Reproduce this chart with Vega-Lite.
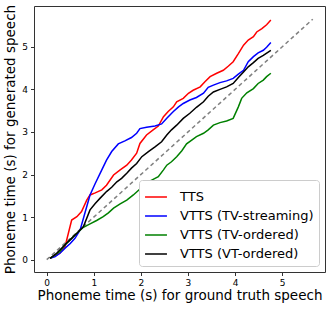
{
  "$schema": "https://vega.github.io/schema/vega-lite/v6.json",
  "width": 291,
  "height": 266,
  "autosize": {"type": "none"},
  "padding": {"left": 34, "top": 6, "right": 7, "bottom": 37},
  "config": {
    "font": "DejaVu Sans",
    "view": {"stroke": "#333333", "strokeWidth": 1},
    "axis": {"grid": false, "domain": false, "tickColor": "#333333", "tickSize": 3.5, "labelFontSize": 9, "labelColor": "#000000", "titleFontSize": 13.5, "titleFontWeight": "normal", "titleColor": "#000000", "labelPadding": 3}
  },
  "layer": [
    {
      "data": {"values": [{"x": 0, "y": 0}, {"x": 5.65, "y": 5.65}]},
      "mark": {"type": "line", "color": "#808080", "strokeDash": [4, 3], "strokeWidth": 1.5},
      "encoding": {
        "x": {"field": "x", "type": "quantitative", "scale": {"domain": [-0.27, 5.91], "nice": false, "zero": false}},
        "y": {"field": "y", "type": "quantitative", "scale": {"domain": [-0.29, 5.96], "nice": false, "zero": false}}
      }
    },
    {
      "data": {"values": [
        {"s":"TTS","x":0.07,"y":0.03},{"s":"TTS","x":0.28,"y":0.15},{"s":"TTS","x":0.39,"y":0.31},{"s":"TTS","x":0.46,"y":0.62},{"s":"TTS","x":0.53,"y":0.93},{"s":"TTS","x":0.64,"y":1.01},{"s":"TTS","x":0.74,"y":1.13},{"s":"TTS","x":0.85,"y":1.40},{"s":"TTS","x":0.92,"y":1.52},{"s":"TTS","x":1.03,"y":1.57},{"s":"TTS","x":1.17,"y":1.64},{"s":"TTS","x":1.27,"y":1.75},{"s":"TTS","x":1.42,"y":1.99},{"s":"TTS","x":1.56,"y":2.11},{"s":"TTS","x":1.70,"y":2.22},{"s":"TTS","x":1.80,"y":2.34},{"s":"TTS","x":1.91,"y":2.50},{"s":"TTS","x":1.98,"y":2.73},{"s":"TTS","x":2.12,"y":2.93},{"s":"TTS","x":2.26,"y":3.05},{"s":"TTS","x":2.37,"y":3.14},{"s":"TTS","x":2.48,"y":3.36},{"s":"TTS","x":2.58,"y":3.48},{"s":"TTS","x":2.69,"y":3.59},{"s":"TTS","x":2.76,"y":3.71},{"s":"TTS","x":2.90,"y":3.79},{"s":"TTS","x":3.01,"y":3.91},{"s":"TTS","x":3.11,"y":3.98},{"s":"TTS","x":3.26,"y":4.06},{"s":"TTS","x":3.36,"y":4.18},{"s":"TTS","x":3.47,"y":4.30},{"s":"TTS","x":3.61,"y":4.38},{"s":"TTS","x":3.75,"y":4.45},{"s":"TTS","x":3.86,"y":4.55},{"s":"TTS","x":3.96,"y":4.65},{"s":"TTS","x":4.07,"y":4.84},{"s":"TTS","x":4.18,"y":5.04},{"s":"TTS","x":4.28,"y":5.16},{"s":"TTS","x":4.39,"y":5.24},{"s":"TTS","x":4.46,"y":5.35},{"s":"TTS","x":4.57,"y":5.43},{"s":"TTS","x":4.67,"y":5.52},{"s":"TTS","x":4.76,"y":5.63},
        {"s":"VTTS (TV-streaming)","x":0.07,"y":0.03},{"s":"VTTS (TV-streaming)","x":0.18,"y":0.07},{"s":"VTTS (TV-streaming)","x":0.28,"y":0.15},{"s":"VTTS (TV-streaming)","x":0.39,"y":0.27},{"s":"VTTS (TV-streaming)","x":0.50,"y":0.38},{"s":"VTTS (TV-streaming)","x":0.60,"y":0.50},{"s":"VTTS (TV-streaming)","x":0.71,"y":0.70},{"s":"VTTS (TV-streaming)","x":0.81,"y":1.09},{"s":"VTTS (TV-streaming)","x":0.92,"y":1.52},{"s":"VTTS (TV-streaming)","x":1.03,"y":1.79},{"s":"VTTS (TV-streaming)","x":1.17,"y":2.11},{"s":"VTTS (TV-streaming)","x":1.27,"y":2.34},{"s":"VTTS (TV-streaming)","x":1.38,"y":2.54},{"s":"VTTS (TV-streaming)","x":1.52,"y":2.72},{"s":"VTTS (TV-streaming)","x":1.66,"y":2.79},{"s":"VTTS (TV-streaming)","x":1.80,"y":2.87},{"s":"VTTS (TV-streaming)","x":1.91,"y":2.97},{"s":"VTTS (TV-streaming)","x":1.98,"y":3.08},{"s":"VTTS (TV-streaming)","x":2.12,"y":3.11},{"s":"VTTS (TV-streaming)","x":2.30,"y":3.14},{"s":"VTTS (TV-streaming)","x":2.44,"y":3.19},{"s":"VTTS (TV-streaming)","x":2.55,"y":3.32},{"s":"VTTS (TV-streaming)","x":2.69,"y":3.48},{"s":"VTTS (TV-streaming)","x":2.80,"y":3.59},{"s":"VTTS (TV-streaming)","x":2.90,"y":3.67},{"s":"VTTS (TV-streaming)","x":3.04,"y":3.75},{"s":"VTTS (TV-streaming)","x":3.18,"y":3.81},{"s":"VTTS (TV-streaming)","x":3.33,"y":3.91},{"s":"VTTS (TV-streaming)","x":3.43,"y":4.05},{"s":"VTTS (TV-streaming)","x":3.54,"y":4.10},{"s":"VTTS (TV-streaming)","x":3.68,"y":4.16},{"s":"VTTS (TV-streaming)","x":3.82,"y":4.20},{"s":"VTTS (TV-streaming)","x":3.96,"y":4.26},{"s":"VTTS (TV-streaming)","x":4.07,"y":4.36},{"s":"VTTS (TV-streaming)","x":4.18,"y":4.45},{"s":"VTTS (TV-streaming)","x":4.28,"y":4.65},{"s":"VTTS (TV-streaming)","x":4.39,"y":4.77},{"s":"VTTS (TV-streaming)","x":4.49,"y":4.86},{"s":"VTTS (TV-streaming)","x":4.60,"y":4.92},{"s":"VTTS (TV-streaming)","x":4.67,"y":4.99},{"s":"VTTS (TV-streaming)","x":4.76,"y":5.10},
        {"s":"VTTS (TV-ordered)","x":0.07,"y":0.03},{"s":"VTTS (TV-ordered)","x":0.28,"y":0.19},{"s":"VTTS (TV-ordered)","x":0.39,"y":0.35},{"s":"VTTS (TV-ordered)","x":0.53,"y":0.50},{"s":"VTTS (TV-ordered)","x":0.64,"y":0.62},{"s":"VTTS (TV-ordered)","x":0.78,"y":0.76},{"s":"VTTS (TV-ordered)","x":0.92,"y":0.84},{"s":"VTTS (TV-ordered)","x":1.06,"y":0.92},{"s":"VTTS (TV-ordered)","x":1.20,"y":1.01},{"s":"VTTS (TV-ordered)","x":1.31,"y":1.10},{"s":"VTTS (TV-ordered)","x":1.42,"y":1.21},{"s":"VTTS (TV-ordered)","x":1.56,"y":1.31},{"s":"VTTS (TV-ordered)","x":1.70,"y":1.40},{"s":"VTTS (TV-ordered)","x":1.84,"y":1.52},{"s":"VTTS (TV-ordered)","x":1.98,"y":1.66},{"s":"VTTS (TV-ordered)","x":2.09,"y":1.79},{"s":"VTTS (TV-ordered)","x":2.23,"y":1.87},{"s":"VTTS (TV-ordered)","x":2.37,"y":1.95},{"s":"VTTS (TV-ordered)","x":2.48,"y":2.11},{"s":"VTTS (TV-ordered)","x":2.55,"y":2.22},{"s":"VTTS (TV-ordered)","x":2.65,"y":2.30},{"s":"VTTS (TV-ordered)","x":2.76,"y":2.42},{"s":"VTTS (TV-ordered)","x":2.87,"y":2.56},{"s":"VTTS (TV-ordered)","x":2.97,"y":2.72},{"s":"VTTS (TV-ordered)","x":3.08,"y":2.81},{"s":"VTTS (TV-ordered)","x":3.18,"y":2.89},{"s":"VTTS (TV-ordered)","x":3.33,"y":2.97},{"s":"VTTS (TV-ordered)","x":3.43,"y":3.05},{"s":"VTTS (TV-ordered)","x":3.54,"y":3.16},{"s":"VTTS (TV-ordered)","x":3.68,"y":3.22},{"s":"VTTS (TV-ordered)","x":3.82,"y":3.26},{"s":"VTTS (TV-ordered)","x":3.96,"y":3.32},{"s":"VTTS (TV-ordered)","x":4.07,"y":3.59},{"s":"VTTS (TV-ordered)","x":4.14,"y":3.79},{"s":"VTTS (TV-ordered)","x":4.25,"y":3.92},{"s":"VTTS (TV-ordered)","x":4.39,"y":4.02},{"s":"VTTS (TV-ordered)","x":4.49,"y":4.14},{"s":"VTTS (TV-ordered)","x":4.60,"y":4.22},{"s":"VTTS (TV-ordered)","x":4.67,"y":4.30},{"s":"VTTS (TV-ordered)","x":4.76,"y":4.38},
        {"s":"VTTS (VT-ordered)","x":0.07,"y":0.03},{"s":"VTTS (VT-ordered)","x":0.21,"y":0.15},{"s":"VTTS (VT-ordered)","x":0.39,"y":0.35},{"s":"VTTS (VT-ordered)","x":0.53,"y":0.50},{"s":"VTTS (VT-ordered)","x":0.64,"y":0.62},{"s":"VTTS (VT-ordered)","x":0.78,"y":0.78},{"s":"VTTS (VT-ordered)","x":0.92,"y":1.17},{"s":"VTTS (VT-ordered)","x":1.03,"y":1.32},{"s":"VTTS (VT-ordered)","x":1.13,"y":1.44},{"s":"VTTS (VT-ordered)","x":1.27,"y":1.60},{"s":"VTTS (VT-ordered)","x":1.38,"y":1.70},{"s":"VTTS (VT-ordered)","x":1.49,"y":1.83},{"s":"VTTS (VT-ordered)","x":1.59,"y":1.91},{"s":"VTTS (VT-ordered)","x":1.70,"y":2.03},{"s":"VTTS (VT-ordered)","x":1.80,"y":2.15},{"s":"VTTS (VT-ordered)","x":1.91,"y":2.26},{"s":"VTTS (VT-ordered)","x":2.02,"y":2.42},{"s":"VTTS (VT-ordered)","x":2.16,"y":2.54},{"s":"VTTS (VT-ordered)","x":2.30,"y":2.65},{"s":"VTTS (VT-ordered)","x":2.44,"y":2.77},{"s":"VTTS (VT-ordered)","x":2.55,"y":2.93},{"s":"VTTS (VT-ordered)","x":2.65,"y":3.05},{"s":"VTTS (VT-ordered)","x":2.76,"y":3.16},{"s":"VTTS (VT-ordered)","x":2.90,"y":3.32},{"s":"VTTS (VT-ordered)","x":3.04,"y":3.44},{"s":"VTTS (VT-ordered)","x":3.18,"y":3.58},{"s":"VTTS (VT-ordered)","x":3.33,"y":3.71},{"s":"VTTS (VT-ordered)","x":3.43,"y":3.84},{"s":"VTTS (VT-ordered)","x":3.54,"y":3.94},{"s":"VTTS (VT-ordered)","x":3.68,"y":4.00},{"s":"VTTS (VT-ordered)","x":3.82,"y":4.06},{"s":"VTTS (VT-ordered)","x":3.96,"y":4.14},{"s":"VTTS (VT-ordered)","x":4.07,"y":4.28},{"s":"VTTS (VT-ordered)","x":4.18,"y":4.41},{"s":"VTTS (VT-ordered)","x":4.28,"y":4.53},{"s":"VTTS (VT-ordered)","x":4.39,"y":4.63},{"s":"VTTS (VT-ordered)","x":4.49,"y":4.73},{"s":"VTTS (VT-ordered)","x":4.60,"y":4.80},{"s":"VTTS (VT-ordered)","x":4.76,"y":4.92}
      ]},
      "mark": {"type": "line", "strokeWidth": 1.5},
      "encoding": {
        "x": {"field": "x", "type": "quantitative", "scale": {"domain": [-0.27, 5.91], "nice": false, "zero": false},
              "axis": {"values": [0, 1, 2, 3, 4, 5], "title": "Phoneme time (s) for ground truth speech", "titlePadding": 1}},
        "y": {"field": "y", "type": "quantitative", "scale": {"domain": [-0.29, 5.96], "nice": false, "zero": false},
              "axis": {"values": [0, 1, 2, 3, 4, 5], "title": "Phoneme time (s) for generated speech", "titlePadding": 4}},
        "color": {"field": "s", "type": "nominal",
          "scale": {"domain": ["TTS", "VTTS (TV-streaming)", "VTTS (TV-ordered)", "VTTS (VT-ordered)"], "range": ["#ff0000", "#0000ff", "#008000", "#000000"]},
          "legend": {"title": null, "orient": "bottom-right", "offset": 6, "symbolType": "stroke", "symbolSize": 480, "symbolStrokeWidth": 1.5, "labelFontSize": 13, "labelColor": "#000000", "fillColor": "#ffffff", "strokeColor": "#cccccc", "cornerRadius": 3, "padding": 5, "rowPadding": 0, "labelOffset": 12}
        }
      }
    }
  ]
}
